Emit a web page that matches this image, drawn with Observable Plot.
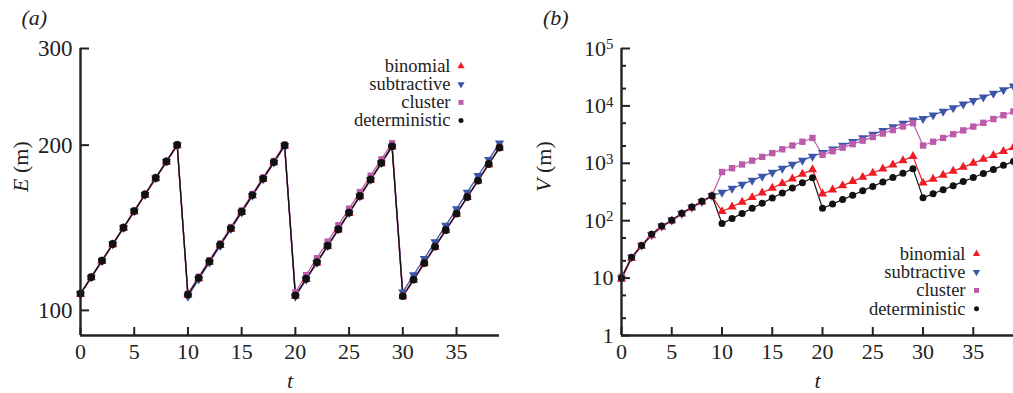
<!DOCTYPE html>
<html><head><meta charset="utf-8">
<script src="https://cdn.jsdelivr.net/npm/d3@7"></script>
<script src="https://cdn.jsdelivr.net/npm/@observablehq/plot@0.6"></script>
<style>
body{margin:0;background:#fff;}
#wrap{position:relative;width:1013px;height:393px;overflow:hidden;background:#fff;}
#wrap svg{position:absolute;top:0;overflow:visible;max-width:none;}
</style></head><body><div id="wrap"></div>
<script>
// time steps
const tSteps = [0,1,2,3,4,5,6,7,8,9,10,11,12,13,14,15,16,17,18,19,20,21,22,23,24,25,26,27,28,29,30,31,32,33,34,35,36,37,38,39];
const seriesNames = ["binomial","subtractive","cluster","deterministic"];
const seriesColors = ["#ee1c25","#3b55a8","#bc5aab","#111111"];
const seriesSymbols = ["triangle","triangle","square","circle"];
const seriesRotate = [0,180,0,0];

// panel (a): E (m)
const E_binomial = [107.0,114.7,122.9,131.8,141.2,151.3,162.2,173.8,186.3,199.6,
  106.6,114.3,122.5,131.3,140.7,150.9,161.8,173.4,185.8,199.2,
  106.2,113.9,122.1,130.8,140.2,150.3,161.1,172.7,185.1,198.5,
  105.9,113.5,121.7,130.4,139.8,149.8,160.6,172.1,184.4,197.6];
const E_subtractive = [107.2,114.9,123.1,132.0,141.4,151.6,162.5,174.2,186.7,200.1,
  106.0,114.0,122.3,131.2,140.8,151.0,161.9,173.6,186.1,199.5,
  106.0,113.9,122.2,131.1,140.5,150.6,161.5,173.1,185.6,198.9,
  108.0,116.0,124.3,133.3,142.9,153.1,164.1,175.9,188.3,201.7];
const E_cluster = [107.4,115.1,123.3,132.2,141.7,151.9,162.8,174.5,187.0,200.5,
  107.2,115.2,123.5,132.4,141.9,152.1,163.0,174.7,187.2,200.6,
  107.9,116.0,124.5,133.5,143.0,153.3,164.3,176.0,188.5,201.7,
  106.4,114.0,122.2,130.9,140.3,150.4,161.2,172.7,185.1,198.3];
const E_deterministic = [107.3,115.0,123.2,132.1,141.5,151.7,162.6,174.3,186.8,200.2,
  106.9,114.6,122.8,131.7,141.1,151.3,162.2,173.8,186.3,199.8,
  106.5,114.2,122.4,131.2,140.6,150.7,161.6,173.2,185.7,199.0,
  106.2,113.8,122.0,130.7,140.1,150.1,160.9,172.4,184.8,198.0];

// panel (b): V (m)
const V_binomial = [9.6,22,36,55,77,100,131,168,212,268,
  145,175,211,254,307,370,446,538,648,780,
  293,346,409,484,572,676,799,944,1116,1320,
  455,533,625,732,858,1006,1179,1382,1620,1900];
const V_subtractive = [10,23,37,57,80,102,133,170,215,272,
  310,364,428,503,591,694,815,958,1125,1320,
  1530,1773,2055,2382,2760,3199,3707,4297,4980,5650,
  6000,6930,8005,9245,10680,12330,14240,16450,19000,22000];
const V_cluster = [10.5,23,37,57,79,101,134,172,216,272,
  705,821,955,1112,1294,1507,1754,2041,2376,2760,
  1410,1624,1872,2157,2485,2863,3299,3801,4380,5020,
  2040,2374,2763,3216,3743,4357,5071,5902,6870,8000];
const V_deterministic = [10,23,37,58,81,102,135,173,218,272,
  89,109,134,165,202,248,304,373,458,560,
  164,196,233,278,332,396,472,563,672,800,
  250,294,346,408,480,565,665,783,921,1080];

// ticks
const tTicks = [0,5,10,15,20,25,30,35];
const eTicks = [100,200,300];
const vTicks = [1,10,100,1000,10000,100000];
const vMinor = [2,5,20,50,200,500,2000,5000,20000,50000];

const FONT = "'Liberation Serif', 'Times New Roman', serif";

function rows(seriesArrays) {
  const out = [];
  seriesArrays.forEach((arr, s) => arr.forEach((v, i) => out.push({t: tSteps[i], v, s})));
  return out;
}

function seriesMarks(data, dotR, lineW) {
  const m = [];
  for (let s = 0; s < 4; s++) {
    const d = data.filter(r => r.s === s);
    m.push(Plot.line(d, {x: "t", y: "v", stroke: seriesColors[s], strokeWidth: lineW}));
  }
  for (let s = 0; s < 4; s++) {
    const d = data.filter(r => r.s === s);
    m.push(Plot.dot(d, {x: "t", y: "v", symbol: seriesSymbols[s], fill: seriesColors[s],
      r: dotR[s], rotate: seriesRotate[s], stroke: "none"}));
  }
  return m;
}

function legendMarks(dxText, dxSym, dy0, step) {
  const m = [];
  const lr = [2.7, 2.7, 2.8, 2.5];
  seriesNames.forEach((name, i) => {
    m.push(Plot.text([name], {frameAnchor: "top-right", dx: dxText, dy: dy0 + i * step,
      textAnchor: "end", lineAnchor: "middle", fontSize: 18.5, fill: "#222"}));
    m.push(Plot.dot([name], {frameAnchor: "top-right", dx: dxSym, dy: dy0 + i * step,
      symbol: seriesSymbols[i], fill: seriesColors[i], r: lr[i], rotate: seriesRotate[i], stroke: "none"}));
  });
  return m;
}

const dataE = rows([E_binomial, E_subtractive, E_cluster, E_deterministic]);
const dataV = rows([V_binomial, V_subtractive, V_cluster, V_deterministic]);

const plotA = Plot.plot({
  width: 505, height: 393,
  marginLeft: 80, marginRight: 6, marginTop: 48, marginBottom: 58,
  x: {domain: [0, 39]},
  y: {type: "log", domain: [90, 300]},
  style: {fontFamily: FONT, fontSize: "22px", color: "#222", background: "transparent", overflow: "visible"},
  marks: [
    ...seriesMarks(dataE, [3.4, 3.4, 3.5, 3.9], 1.3),
    Plot.ruleX([0], {strokeWidth: 2.4, stroke: "#222"}),
    Plot.ruleY([90], {strokeWidth: 2.4, stroke: "#222"}),
    Plot.axisY(eTicks, {anchor: "left", tickSize: -9, tickPadding: 17, strokeWidth: 2, tickFormat: d => String(d), label: null, fontSize: 23}),
    Plot.axisX(tTicks, {anchor: "bottom", tickSize: -8, tickPadding: 16, strokeWidth: 2, tickFormat: d => String(d), label: null}),
    Plot.text(["(a)"], {frameAnchor: "top-left", dx: -59, dy: -31, fontStyle: "italic", fontSize: 22, lineAnchor: "middle"}),
    Plot.text(["E (m)"], {frameAnchor: "left", dx: -60, rotate: -90, fontSize: 22, lineAnchor: "middle"}),
    Plot.text(["t"], {frameAnchor: "bottom", dy: 45, fontStyle: "italic", fontSize: 22, lineAnchor: "middle"}),
    ...legendMarks(-49, -38.5, 17.7, 18.1)
  ]
});

const plotB = Plot.plot({
  width: 513, height: 393,
  marginLeft: 121, marginRight: 0, marginTop: 48, marginBottom: 58,
  x: {domain: [0, 39]},
  y: {type: "log", domain: [1, 100000]},
  style: {fontFamily: FONT, fontSize: "22px", color: "#222", background: "transparent", overflow: "visible"},
  marks: [
    ...seriesMarks(dataV, [3.4, 3.4, 3.6, 3.5], 1.2),
    Plot.ruleX([0], {strokeWidth: 2.4, stroke: "#222"}),
    Plot.ruleY([1], {strokeWidth: 2.4, stroke: "#222"}),
    Plot.axisY(vTicks, {anchor: "left", tickSize: -9, tickPadding: 17, strokeWidth: 2, tickFormat: d => String(d), label: null}),
    Plot.axisY(vMinor, {anchor: "left", tickSize: -5, strokeWidth: 2, tickFormat: () => "", label: null}),
    Plot.axisX(tTicks, {anchor: "bottom", tickSize: -8, tickPadding: 16, strokeWidth: 2, tickFormat: d => String(d), label: null}),
    Plot.text(["(b)"], {frameAnchor: "top-left", dx: -78.5, dy: -31, fontStyle: "italic", fontSize: 22, lineAnchor: "middle"}),
    Plot.text(["V (m)"], {frameAnchor: "left", dx: -78, rotate: -90, fontSize: 22, lineAnchor: "middle"}),
    Plot.text(["t"], {frameAnchor: "bottom", dy: 45, fontStyle: "italic", fontSize: 22, lineAnchor: "middle"}),
    ...legendMarks(-48, -37, 205.3, 18.3)
  ]
});

plotA.style.left = "0px";
plotB.style.left = "500px";
const wrap = document.getElementById("wrap");
wrap.appendChild(plotA);
wrap.appendChild(plotB);

// italic variable names in axis labels, superscript exponents on the log axis
[plotA, plotB].forEach(svg => {
  svg.querySelectorAll("text").forEach(el => {
    const s = el.textContent;
    if (s === "E (m)" || s === "V (m)") {
      el.innerHTML = '<tspan font-style="italic">' + s[0] + '</tspan> (m)';
    } else if (svg === plotB && /^10{2,5}$/.test(s)) {
      const e = s.length - 1;
      el.innerHTML = '10<tspan dy="-0.42em" font-size="0.68em">' + e + '</tspan>';
    }
  });
});
</script></body></html>
